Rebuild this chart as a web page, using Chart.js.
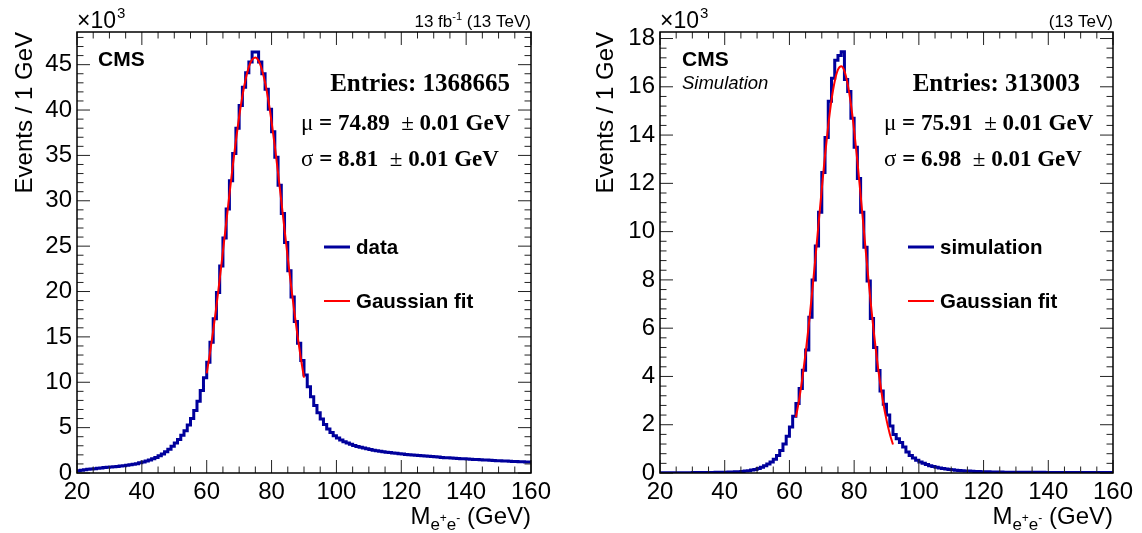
<!DOCTYPE html>
<html>
<head>
<meta charset="utf-8">
<script src="https://cdn.jsdelivr.net/npm/chart.js@4.4.1/dist/chart.umd.min.js"></script>
<style>
  html, body { margin: 0; padding: 0; background: #fff; }
  #wrap { position: relative; width: 1142px; height: 533px; }
  canvas { position: absolute; top: 0; }
</style>
</head>
<body>
<div id="wrap">
  <canvas id="left" width="571" height="533" style="left:0"></canvas>
  <canvas id="right" width="571" height="533" style="left:571px"></canvas>
</div>
<script>
// histogram: 1 GeV bins from 20 to 160, counts in thousands of events
const binLow = 20;
const binWidth = 1;

const dataCounts = [
  0.25, 0.30, 0.35, 0.40, 0.44, 0.48, 0.52, 0.56, 0.60, 0.63,
  0.67, 0.70, 0.73, 0.77, 0.81, 0.85, 0.90, 0.96, 1.03, 1.12,
  1.22, 1.32, 1.44, 1.57, 1.72, 1.90, 2.10, 2.33, 2.62, 2.95,
  3.30, 3.70, 4.15, 4.65, 5.30, 6.00, 6.90, 7.90, 9.10, 10.5,
  12.2, 14.4, 17.0, 19.9, 22.8, 25.9, 29.1, 32.2, 35.2, 38.0,
  40.5, 42.5, 44.1, 45.3, 46.4, 46.4, 45.3, 44.0, 42.3, 40.1,
  37.6, 34.8, 31.7, 28.6, 25.4, 22.3, 19.4, 16.7, 14.3, 12.4,
  10.8, 9.5, 8.4, 7.45, 6.65, 5.95, 5.35, 4.85, 4.45, 4.10,
  3.85, 3.65, 3.45, 3.30, 3.16, 3.04, 2.93, 2.84, 2.75, 2.67,
  2.59, 2.52, 2.46, 2.40, 2.35, 2.30, 2.25, 2.21, 2.17, 2.13,
  2.09, 2.05, 2.02, 1.99, 1.96, 1.93, 1.90, 1.87, 1.84, 1.81,
  1.78, 1.75, 1.72, 1.69, 1.67, 1.65, 1.62, 1.60, 1.58, 1.56,
  1.54, 1.52, 1.50, 1.48, 1.46, 1.44, 1.42, 1.40, 1.38, 1.36,
  1.34, 1.32, 1.31, 1.29, 1.27, 1.26, 1.24, 1.23, 1.21, 1.20
];

const simCounts = [
  0.010, 0.010, 0.010, 0.010, 0.012, 0.012, 0.013, 0.013, 0.014, 0.015,
  0.016, 0.017, 0.018, 0.019, 0.020, 0.022, 0.024, 0.026, 0.028, 0.030,
  0.033, 0.037, 0.042, 0.048, 0.056, 0.066, 0.080, 0.097, 0.12, 0.15,
  0.19, 0.24, 0.30, 0.37, 0.46, 0.57, 0.72, 0.93, 1.20, 1.52,
  1.91, 2.35, 2.88, 3.50, 4.26, 5.10, 6.45, 8.00, 9.40, 10.8,
  12.45, 13.9, 15.4, 16.35, 17.1, 17.3, 17.45, 16.3, 15.8, 14.7,
  13.5, 12.2, 10.8, 9.35, 7.95, 6.4, 5.2, 4.25, 3.4, 2.85,
  2.4, 1.95, 1.6, 1.42, 1.26, 1.08, 0.87, 0.73, 0.62, 0.53,
  0.46, 0.40, 0.35, 0.30, 0.27, 0.24, 0.21, 0.185, 0.165, 0.145,
  0.13, 0.115, 0.105, 0.095, 0.085, 0.078, 0.071, 0.065, 0.060, 0.055,
  0.051, 0.048, 0.045, 0.042, 0.040, 0.038, 0.036, 0.034, 0.032, 0.031,
  0.030, 0.029, 0.029, 0.028, 0.028, 0.027, 0.027, 0.026, 0.026, 0.025,
  0.025, 0.025, 0.024, 0.024, 0.024, 0.023, 0.023, 0.023, 0.022, 0.022,
  0.022, 0.022, 0.021, 0.021, 0.021, 0.021, 0.020, 0.020, 0.020, 0.020
];

// gaussian fit curves as drawn (GeV, thousands)
const dataFitX = [60, 61, 62, 63, 64, 65, 66, 67, 68, 69, 70, 71, 72, 73, 74, 75,
  76, 77, 78, 79, 80, 81, 82, 83, 84, 85, 86, 87, 88, 89, 90];
const dataFitY = [10.98, 13.21, 15.70, 18.42, 21.33, 24.39, 27.53, 30.67, 33.73, 36.63,
  39.26, 41.54, 43.40, 44.76, 45.57, 45.80, 45.44, 44.50, 43.03, 41.08, 38.71,
  36.01, 33.07, 29.98, 26.83, 23.71, 20.67, 17.80, 15.13, 12.70, 10.52];

const simFitX = [62, 63, 64, 65, 66, 67, 68, 69, 70, 71, 72, 73, 74, 75, 76, 77,
  78, 79, 80, 81, 82, 83, 84, 85, 86, 87, 88, 89, 90, 91, 92];
const simFitY = [2.31, 3.04, 3.93, 4.97, 6.15, 7.46, 8.87, 10.32, 11.77, 13.16,
  14.40, 15.45, 16.23, 16.71, 16.85, 16.65, 16.11, 15.28, 14.19, 12.92, 11.52,
  10.06, 8.61, 7.22, 5.93, 4.77, 3.76, 2.90, 2.20, 1.63, 1.18];

const xTicks = [20, 40, 60, 80, 100, 120, 140, 160];

const SANS = "'Liberation Sans', Arial, Helvetica, sans-serif";
const SERIF = "'Liberation Serif', 'Times New Roman', serif";
const BLUE = '#00009c';
const RED = '#ff0000';

// points on the bin edges, each bin value held until the next edge
function histPoints(counts) {
  const pts = counts.map((c, i) => ({ x: binLow + i * binWidth, y: c }));
  pts.push({ x: binLow + counts.length * binWidth, y: counts[counts.length - 1] });
  return pts;
}

function drawRuns(ctx, x, y, parts) {
  for (const [txt, font] of parts) {
    ctx.font = font;
    ctx.fillText(txt, x, y);
    x += ctx.measureText(txt).width;
  }
}

// frame, inside ticks and all the ROOT style text
const decor = {
  id: 'decor',
  afterDraw(chart, args, o) {
    const { ctx, chartArea: a, scales: { x, y } } = chart;
    ctx.save();
    ctx.strokeStyle = '#222';
    ctx.lineWidth = 1;
    ctx.beginPath();
    const nx = Math.round((x.max - x.min) / o.xMinor);
    for (let i = 0; i <= nx; i++) {
      const px = x.getPixelForValue(x.min + i * o.xMinor);
      const len = i % o.xSub === 0 ? 13 : 6.5;
      ctx.moveTo(px, a.bottom); ctx.lineTo(px, a.bottom - len);
      ctx.moveTo(px, a.top); ctx.lineTo(px, a.top + len);
    }
    const ny = Math.floor(y.max / o.yMinor + 1e-6);
    for (let i = 0; i <= ny; i++) {
      const py = y.getPixelForValue(i * o.yMinor);
      const len = i % o.ySub === 0 ? 13 : 6.5;
      ctx.moveTo(a.left, py); ctx.lineTo(a.left + len, py);
      ctx.moveTo(a.right, py); ctx.lineTo(a.right - len, py);
    }
    ctx.stroke();
    ctx.strokeStyle = '#000';
    ctx.lineWidth = 1.5;
    ctx.strokeRect(a.left, a.top, a.right - a.left, a.bottom - a.top);

    ctx.fillStyle = '#000';
    ctx.textBaseline = 'alphabetic';

    // x10^3
    ctx.textAlign = 'left';
    drawRuns(ctx, a.left, 28, [['\u00d710', `23px ${SANS}`]]);
    ctx.font = `23px ${SANS}`;
    const w10 = ctx.measureText('\u00d710').width;
    ctx.font = `15px ${SANS}`;
    ctx.fillText('3', a.left + w10 + 1, 18);

    // lumi label, right aligned
    let tw = 0;
    for (const [t, f] of o.lumi) { ctx.font = f; tw += ctx.measureText(t).width; }
    let lx = a.right - tw;
    for (const [t, f, dy] of o.lumi) {
      ctx.font = f;
      ctx.fillText(t, lx, 27 + (dy || 0));
      lx += ctx.measureText(t).width;
    }

    // CMS label
    ctx.font = `bold 21px ${SANS}`;
    ctx.fillText('CMS', o.cmsX, 66);
    if (o.extra) {
      ctx.font = `italic 18.5px ${SANS}`;
      ctx.fillText(o.extra, o.cmsX, 89);
    }

    // stat box
    ctx.font = `bold 25px ${SERIF}`;
    ctx.textAlign = 'right';
    ctx.fillText(o.entries, o.entriesRight, 91);
    ctx.textAlign = 'left';
    drawRuns(ctx, o.statX, 130, [
      ['\u03bc', `23px ${SERIF}`],
      [' = ' + o.mu + '  ', `bold 23px ${SERIF}`],
      ['\u00b1', `23px ${SERIF}`],
      [' 0.01 GeV', `bold 23px ${SERIF}`]
    ]);
    drawRuns(ctx, o.statX, 166, [
      ['\u03c3', `23px ${SERIF}`],
      [' = ' + o.sigma + '  ', `bold 23px ${SERIF}`],
      ['\u00b1', `23px ${SERIF}`],
      [' 0.01 GeV', `bold 23px ${SERIF}`]
    ]);

    // legend
    ctx.lineCap = 'butt';
    ctx.strokeStyle = BLUE; ctx.lineWidth = 3;
    ctx.beginPath(); ctx.moveTo(o.legX, 247); ctx.lineTo(o.legX + 26, 247); ctx.stroke();
    ctx.strokeStyle = RED; ctx.lineWidth = 2;
    ctx.beginPath(); ctx.moveTo(o.legX, 301); ctx.lineTo(o.legX + 26, 301); ctx.stroke();
    ctx.font = `bold 20.5px ${SANS}`;
    ctx.fillText(o.legend, o.legX + 32, 254);
    ctx.fillText('Gaussian fit', o.legX + 32, 308);

    // y title
    ctx.save();
    ctx.translate(o.yTitleX, a.top);
    ctx.rotate(-Math.PI / 2);
    ctx.textAlign = 'right';
    ctx.font = `24px ${SANS}`;
    ctx.fillText('Events / 1 GeV', 0, 0);
    ctx.restore();

    // x title M_{e+e-} (GeV)
    const xt = [
      ['M', `24px ${SANS}`, 0],
      ['e', `17px ${SANS}`, 6],
      ['+', `12px ${SANS}`, -2],
      ['e', `17px ${SANS}`, 6],
      ['-', `12px ${SANS}`, -2],
      [' (GeV)', `24px ${SANS}`, 0]
    ];
    tw = 0;
    for (const [t, f] of xt) { ctx.font = f; tw += ctx.measureText(t).width; }
    lx = a.right - tw;
    for (const [t, f, dy] of xt) {
      ctx.font = f;
      ctx.fillText(t, lx, 524 + dy);
      lx += ctx.measureText(t).width;
    }
    ctx.restore();
  }
};

function makeChart(id, counts, fitX, fitY, yMax, yStep, yWidth, padRight, deco) {
  return new Chart(document.getElementById(id), {
    type: 'line',
    data: {
      datasets: [
        {
          data: histPoints(counts),
          borderColor: BLUE,
          borderWidth: 3,
          stepped: 'before',
          pointRadius: 0,
          fill: false,
          order: 2
        },
        {
          // fit on top of the histogram
          data: fitX.map((v, i) => ({ x: v, y: fitY[i] })),
          borderColor: RED,
          borderWidth: 2,
          cubicInterpolationMode: 'monotone',
          pointRadius: 0,
          fill: false,
          order: 1
        }
      ]
    },
    options: {
      responsive: false,
      animation: false,
      devicePixelRatio: 1,
      layout: { padding: { left: 0, right: padRight, top: 32, bottom: 0 } },
      plugins: { legend: { display: false }, tooltip: { enabled: false }, decor: deco },
      scales: {
        x: {
          type: 'linear',
          min: xTicks[0],
          max: xTicks[xTicks.length - 1],
          afterBuildTicks: (s) => { s.ticks = xTicks.map(v => ({ value: v })); },
          afterFit: (s) => { s.height = 60; },
          ticks: { color: '#000', font: { family: SANS, size: 24 }, padding: 5, maxRotation: 0, autoSkip: false },
          grid: { display: false, drawTicks: false },
          border: { display: false }
        },
        y: {
          type: 'linear',
          min: 0,
          max: yMax,
          afterFit: (s) => { s.width = yWidth; },
          ticks: { stepSize: yStep, includeBounds: false, color: '#000', font: { family: SANS, size: 24 }, padding: 5 },
          grid: { display: false, drawTicks: false },
          border: { display: false }
        }
      }
    },
    plugins: [decor]
  });
}

makeChart('left', dataCounts, dataFitX, dataFitY, 48.6, 5, 77, 40, {
  xMinor: 5, xSub: 4, yMinor: 1, ySub: 5,
  lumi: [['13 fb', `17px ${SANS}`, 0], ['-1', `11px ${SANS}`, -7], [' (13 TeV)', `17px ${SANS}`, 0]],
  cmsX: 98, extra: null,
  entries: 'Entries: 1368665', entriesRight: 510,
  statX: 301, mu: '74.89', sigma: '8.81',
  legX: 324, legend: 'data', yTitleX: 32
});

makeChart('right', simCounts, simFitX, simFitY, 18.27, 2, 89, 29, {
  xMinor: 5, xSub: 4, yMinor: 0.4, ySub: 5,
  lumi: [['(13 TeV)', `17px ${SANS}`, 0]],
  cmsX: 111, extra: 'Simulation',
  entries: 'Entries: 313003', entriesRight: 509,
  statX: 313, mu: '75.91', sigma: '6.98',
  legX: 337, legend: 'simulation', yTitleX: 42
});
</script>
</body>
</html>
